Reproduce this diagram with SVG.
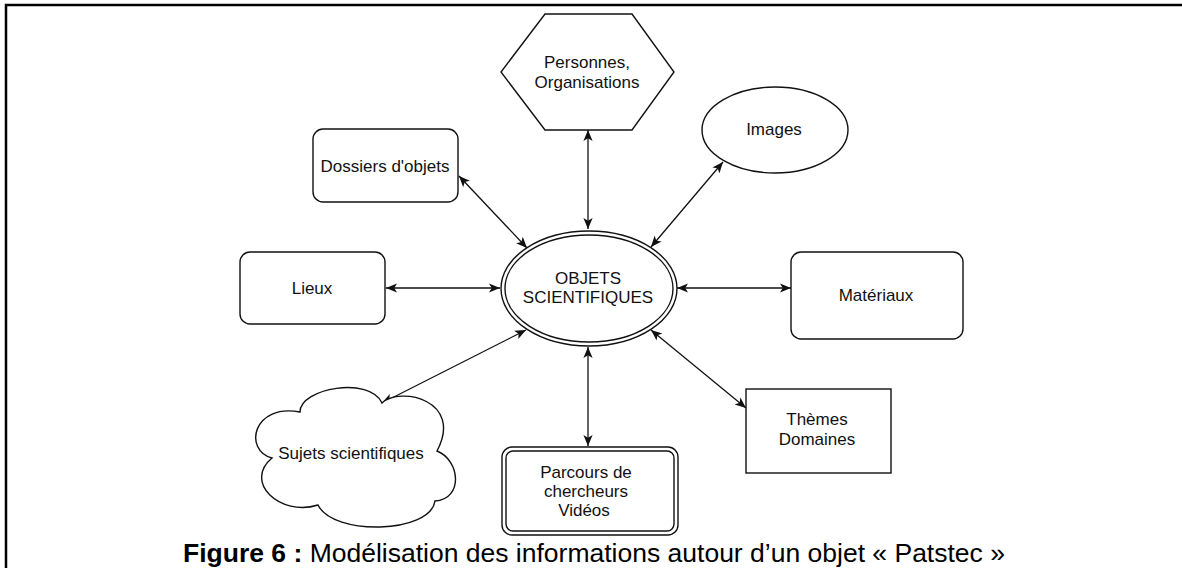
<svg xmlns="http://www.w3.org/2000/svg" width="1182" height="568" viewBox="0 0 1182 568">
<style>
.s{fill:#fff;stroke:#111;stroke-width:1.4}
.t{font-family:"Liberation Sans",Arial,sans-serif;font-size:17px;fill:#111;text-anchor:middle}
.c{stroke:#111;stroke-width:1.3;fill:none;marker-start:url(#a);marker-end:url(#a)}
.cap{font-family:"Liberation Sans",Arial,sans-serif;font-size:26.5px;fill:#000}
</style>
<defs>
<marker id="a" viewBox="0 0 10 10" refX="10" refY="5" markerWidth="11" markerHeight="11" markerUnits="userSpaceOnUse" orient="auto-start-reverse">
<path d="M0,0.8 L10,5 L0,9.2 L2.5,5 Z" fill="#111"/>
</marker>
</defs>
<rect width="1182" height="568" fill="#fff"/>
<path d="M6,568 V5 H1182" fill="none" stroke="#000" stroke-width="2.5"/>
<g id="connectors">
<line class="c" x1="588" y1="130" x2="588" y2="229"/>
<line class="c" x1="588" y1="347" x2="588" y2="446"/>
<line class="c" x1="386" y1="288" x2="500" y2="288"/>
<line class="c" x1="677" y1="288" x2="791" y2="288"/>
<line class="c" x1="459" y1="176" x2="527" y2="248"/>
<line class="c" x1="723" y1="162" x2="651" y2="247"/>
<line class="c" x1="382" y1="403" x2="526" y2="330"/>
<line class="c" x1="651" y1="330" x2="746" y2="408"/>
</g>
<g id="personnes">
<polygon class="s" points="545,14 632,14 674,72 632,130 545,130 501,72"/>
<text class="t" x="587" y="68">Personnes,</text>
<text class="t" x="587" y="88">Organisations</text>
</g>
<g id="dossiers">
<rect class="s" x="313" y="129" width="145" height="73" rx="10"/>
<text class="t" x="385" y="172">Dossiers d'objets</text>
</g>
<g id="images">
<ellipse class="s" cx="775" cy="130" rx="73" ry="43"/>
<text class="t" x="774" y="135">Images</text>
</g>
<g id="lieux">
<rect class="s" x="240" y="252" width="145" height="72" rx="10"/>
<text class="t" x="312" y="294">Lieux</text>
</g>
<g id="objets">
<ellipse class="s" cx="589" cy="288.5" rx="88" ry="57.5"/>
<ellipse class="s" cx="589" cy="288.5" rx="84" ry="53.5"/>
<text class="t" x="588" y="284">OBJETS</text>
<text class="t" x="588" y="303">SCIENTIFIQUES</text>
</g>
<g id="materiaux">
<rect class="s" x="791" y="252" width="172" height="87" rx="10"/>
<text class="t" x="876" y="301">Matériaux</text>
</g>
<g id="themes">
<rect class="s" x="746" y="389" width="145" height="84"/>
<text class="t" x="817" y="425">Thèmes</text>
<text class="t" x="817" y="445">Domaines</text>
</g>
<g id="parcours">
<rect class="s" x="502" y="447" width="176" height="88" rx="10"/>
<rect class="s" x="506" y="451" width="168" height="80" rx="7"/>
<text class="t" x="586" y="478">Parcours de</text>
<text class="t" x="586" y="497">chercheurs</text>
<text class="t" x="584" y="516">Vidéos</text>
</g>
<g id="sujets">
<path class="s" d="M272,458 C243,450 253,403 300,412 C300,388 370,376 382,403 C400,386 464,400 437,451 C460,460 464,499 435,501 C430,534 333,536 318,505 C280,517 243,482 272,458 Z"/>
<text class="t" x="351" y="459">Sujets scientifiques</text>
</g>
<text class="cap" x="183" y="562"><tspan font-weight="bold">Figure 6 :</tspan> Modélisation des informations autour d’un objet « Patstec »</text>
</svg>
